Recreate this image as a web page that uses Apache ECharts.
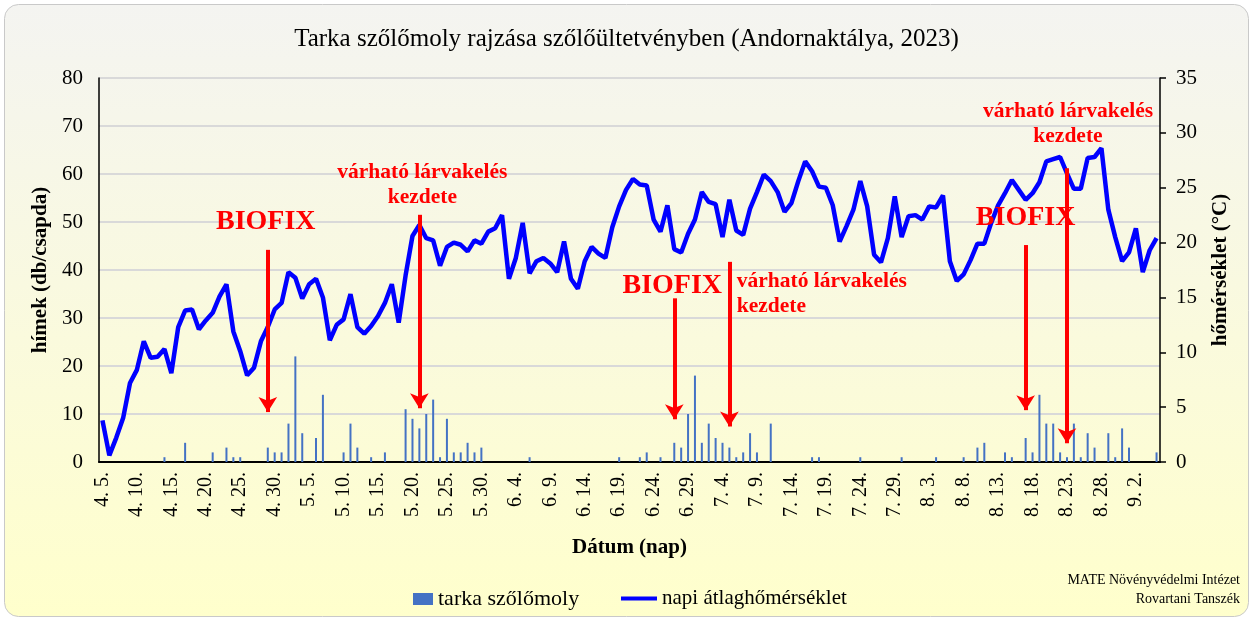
<!DOCTYPE html>
<html><head><meta charset="utf-8">
<script src="https://cdn.jsdelivr.net/npm/echarts@6/dist/echarts.min.js"></script>
<style>html,body{margin:0;padding:0;background:#fff}#c{width:1253px;height:621px}</style>
</head><body><div id="c"></div>
<script>
// Daily categories 4.5. -> 9.5. (2023)
const startMonth = 4, startDay = 5, dayCount = 154;
const monthLengths = {4: 30, 5: 31, 6: 30, 7: 31, 8: 31, 9: 30};
const categories = [];
(function(){ let m = startMonth, d = startDay;
  for (let i = 0; i < dayCount; i++) { categories.push(m + '. ' + d + '.'); d++; if (d > monthLengths[m]) { d = 1; m++; } } })();

// hímek (db/csapda) – tarka szőlőmoly
const mothCatch = [
 0,0,0,0,0,0,0,0,0,1,
 0,0,4,0,0,0,2,0,3,1,
 1,0,0,0,3,2,2,8,22,6,
 0,5,14,0,0,2,8,3,0,1,
 0,2,0,0,11,9,7,10,13,1,
 9,2,2,4,2,3,0,0,0,0,
 0,0,1,0,0,0,0,0,0,0,
 0,0,0,0,0,1,0,0,1,2,
 0,1,0,4,3,10,18,4,8,5,
 4,3,1,2,6,2,0,8,0,0,
 0,0,0,1,1,0,0,0,0,0,
 1,0,0,0,0,0,1,0,0,0,
 0,1,0,0,0,1,0,3,4,0,
 0,2,1,0,5,2,14,8,8,2,
 1,8,1,6,3,0,6,1,7,3,
 0,0,0,2];

// napi átlaghőmérséklet (°C)
const dailyTemp = [
 3.8,0.6,2.2,4.0,7.2,8.4,11.0,9.5,9.6,10.3,
 8.1,12.3,13.8,13.9,12.1,12.9,13.6,15.1,16.2,11.9,
 10.1,7.9,8.6,11.0,12.3,13.9,14.5,17.3,16.8,14.9,
 16.2,16.7,15.0,11.1,12.5,13.0,15.3,12.3,11.7,12.4,
 13.3,14.5,16.2,12.7,17.0,20.6,21.6,20.4,20.2,17.9,
 19.6,20.0,19.8,19.2,20.2,19.9,21.0,21.3,22.5,16.7,
 18.6,21.8,17.2,18.3,18.6,18.1,17.3,20.1,16.7,15.8,
 18.3,19.6,19.0,18.6,21.4,23.3,24.8,25.8,25.3,25.2,
 22.1,21.0,23.4,19.4,19.1,20.8,22.1,24.6,23.7,23.5,
 20.5,23.9,21.1,20.7,23.1,24.6,26.2,25.6,24.6,22.8,
 23.6,25.6,27.4,26.5,25.1,25.0,23.4,20.1,21.5,23.0,
 25.6,23.3,18.9,18.2,20.4,24.2,20.5,22.4,22.5,22.1,
 23.3,23.2,24.3,18.3,16.5,17.1,18.4,19.9,19.9,21.8,
 23.4,24.5,25.7,24.8,23.9,24.5,25.5,27.4,27.6,27.8,
 26.3,24.9,24.9,27.7,27.8,28.6,23.0,20.5,18.3,19.1,
 21.3,17.3,19.3,20.4];

// arrows: date, top value, tip value (left axis units)
const arrowDates = ['4. 29.', '5. 21.', '6. 27.', '7. 5.', '8. 17.', '8. 23.'];
const arrowFrom  = [44.2, 51.5, 34.1, 41.7, 45.2, 61.2];
const arrowTo    = [10.4, 11.2, 8.9, 7.4, 10.8, 3.9];

// annotation texts
const noteTexts  = ['BIOFIX', 'várható lárvakelés\nkezdete', 'BIOFIX', 'várható lárvakelés\nkezdete', 'BIOFIX', 'várható lárvakelés\nkezdete'];
const noteDates  = ['4. 29.', '5. 21.', '6. 27.', '7. 6.', '8. 17.', '8. 23.'];
const noteValues = [50.0, 57.8, 36.7, 35.1, 50.8, 70.4];

const leftAxis = {min: 0, max: 80, interval: 10};
const rightAxis = {min: 0, max: 35, interval: 5};

const FF = '"Liberation Serif", "Times New Roman", serif';
const chart = echarts.init(document.getElementById('c'), null, {renderer: 'canvas'});

const notePositions = ['inside', 'inside', 'inside', 'right', 'inside', 'inside'];
const noteOffsets = [[-2,0],[3,0],[-2,0],[0,0],[0,0],[1,0]];

chart.setOption({
  animation: false,
  textStyle: {fontFamily: FF, color: '#000'},
  title: {
    text: 'Tarka szőlőmoly rajzása szőlőültetvényben (Andornaktálya, 2023)',
    left: 'center', top: 27, padding: 0,
    textStyle: {fontFamily: FF, fontSize: 25, fontWeight: 'normal', color: '#000'}
  },
  graphic: {elements: [
    {type: 'rect', z: -10, silent: true,
     shape: {x: 4.5, y: 4.5, width: 1244, height: 612, r: 14},
     style: {fill: new echarts.graphic.LinearGradient(0, 0, 0, 1, [{offset: 0, color: '#F4F4F1'}, {offset: 1, color: '#FFFFCC'}]),
             stroke: '#C9C9C9', lineWidth: 1}},
    {type: 'text', x: 1240, y: 573, silent: true,
     style: {text: 'MATE Növényvédelmi Intézet', font: '14px ' + FF, fill: '#000', textAlign: 'right'}},
    {type: 'text', x: 1240, y: 592, silent: true,
     style: {text: 'Rovartani Tanszék', font: '14px ' + FF, fill: '#000', textAlign: 'right'}}
  ]},
  legend: [
    {data: [{name: 'tarka szőlőmoly', icon: 'rect'}], left: 413, top: 588, padding: 0, itemWidth: 20, itemHeight: 12, itemGap: 5,
     textStyle: {fontFamily: FF, fontSize: 22, color: '#000'}},
    {data: [{name: 'napi átlaghőmérséklet', icon: 'rect'}], left: 621, top: 588, padding: 0, itemWidth: 36, itemHeight: 4,
     textStyle: {fontFamily: FF, fontSize: 21, color: '#000'}}
  ],
  grid: {left: 99, right: 93, top: 78, bottom: 159, containLabel: false},
  xAxis: [
    {type: 'category', data: categories, boundaryGap: true,
     axisLine: {lineStyle: {color: '#000', width: 2}},
     axisTick: {interval: 0, length: 5, lineStyle: {color: '#000', width: 1.5}},
     axisLabel: {interval: 4, rotate: 90, fontFamily: FF, fontSize: 20, color: '#000', margin: 10},
     name: 'Dátum (nap)', nameLocation: 'middle', nameGap: 75,
     nameTextStyle: {fontFamily: FF, fontSize: 21, fontWeight: 'bold', color: '#000'}},
    {type: 'category', data: categories, boundaryGap: true, position: 'bottom',
     axisLine: {show: false}, axisLabel: {show: false},
     axisTick: {interval: 4, length: 9, lineStyle: {color: '#000', width: 1.5}}}
  ],
  yAxis: [
    {type: 'value', position: 'left', min: leftAxis.min, max: leftAxis.max, interval: leftAxis.interval,
     axisLine: {show: true, lineStyle: {color: '#000', width: 1.5}},
     axisTick: {show: false},
     splitLine: {lineStyle: {color: '#D9D9D9', width: 2}},
     axisLabel: {fontFamily: FF, fontSize: 21, color: '#000', margin: 16},
     name: 'hímek (db/csapda)', nameLocation: 'middle', nameRotate: 90, nameGap: 42,
     nameTextStyle: {fontFamily: FF, fontSize: 21, fontWeight: 'bold', color: '#000'}},
    {type: 'value', position: 'right', min: rightAxis.min, max: rightAxis.max, interval: rightAxis.interval,
     axisLine: {show: true, lineStyle: {color: '#000', width: 1.5}},
     axisTick: {show: true, length: 6, lineStyle: {color: '#000', width: 1.5}},
     splitLine: {show: false},
     axisLabel: {fontFamily: FF, fontSize: 21, color: '#000', margin: 16},
     name: 'hőmérséklet (°C)', nameLocation: 'middle', nameRotate: 90, nameGap: 50,
     nameTextStyle: {fontFamily: FF, fontSize: 21, fontWeight: 'bold', color: '#000'}}
  ],
  series: [
    {name: 'tarka szőlőmoly', type: 'bar', data: mothCatch, barWidth: 2, yAxisIndex: 0,
     itemStyle: {color: '#4472C4'},
     markLine: {silent: true, symbol: ['none', 'arrow'], symbolSize: [14, 15],
       lineStyle: {color: '#FF0000', width: 4, type: 'solid'}, label: {show: false},
       data: arrowDates.map((d, i) => [{coord: [d, arrowFrom[i]]}, {coord: [d, arrowTo[i]]}])},
     markPoint: {silent: true, symbol: 'circle', symbolSize: 1, itemStyle: {color: 'rgba(0,0,0,0)'},
       data: noteTexts.map((t, i) => ({coord: [noteDates[i], noteValues[i]], value: 0,
         label: {show: true, formatter: t, position: notePositions[i], distance: 0, offset: noteOffsets[i],
                 color: '#FF0000', fontWeight: 'bold', fontFamily: FF,
                 fontSize: t === 'BIOFIX' ? 28 : 21.5, lineHeight: 25, align: notePositions[i] === 'right' ? 'left' : 'center'}}))}
    },
    {name: 'napi átlaghőmérséklet', type: 'line', data: dailyTemp, yAxisIndex: 1, symbol: 'none', z: 3,
     lineStyle: {color: '#0000FF', width: 4.5}, itemStyle: {color: '#0000FF'}}
  ]
});
</script></body></html>
